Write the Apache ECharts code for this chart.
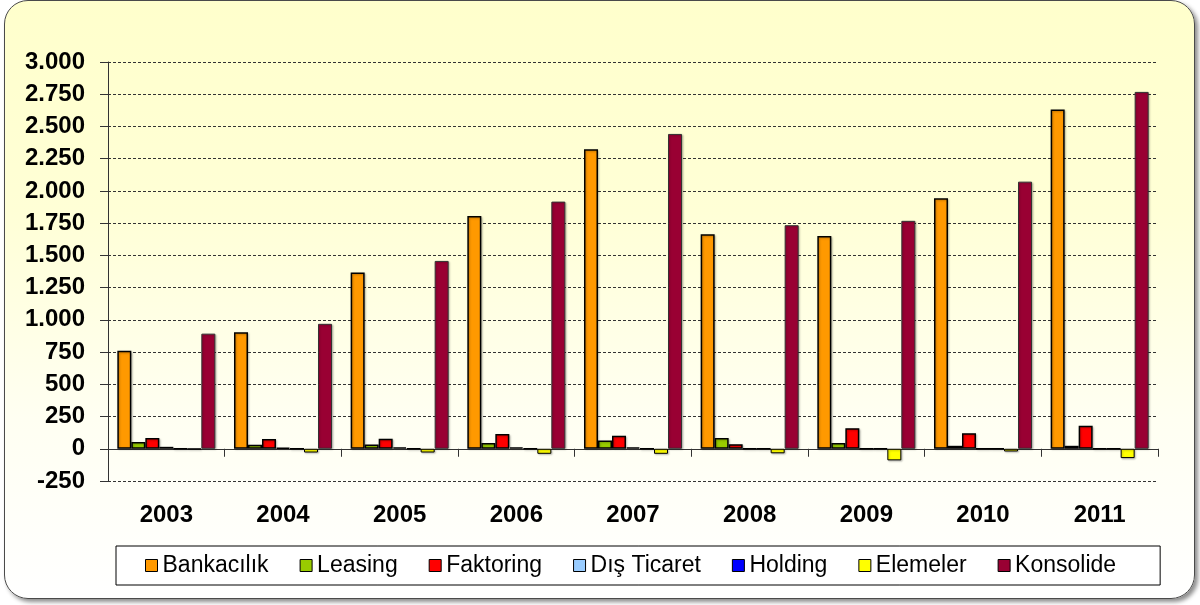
<!DOCTYPE html>
<html>
<head>
<meta charset="utf-8">
<script src="https://cdn.jsdelivr.net/npm/echarts@6/dist/echarts.min.js"></script>
<style>
  html, body { margin: 0; padding: 0; width: 1200px; height: 605px; overflow: hidden; background: #ffffff; }
  #frame { position: absolute; left: 4px; top: 0px; width: 1189px; height: 597px; border: 1.5px solid #4a4a4a; border-radius: 24px;
           background: linear-gradient(to bottom, #FFFFCC 0%, #FFFFD6 35%, #FFFFF2 70%, #FFFFFF 100%);
           box-shadow: 3px 3px 4px rgba(0,0,0,0.45); }
  #chart { position: absolute; left: 0; top: 0; width: 1200px; height: 605px; }
</style>
</head>
<body>
<div id="frame"></div>
<div id="chart"></div>
<script>
const categories = ['2003', '2004', '2005', '2006', '2007', '2008', '2009', '2010', '2011'];
const bankacilik = [760, 903, 1368, 1805, 2323, 1663, 1650, 1943, 2632];
const leasing    = [52, 31, 33, 44, 64, 83, 44, 23, 23];
const faktoring  = [83, 75, 78, 114, 101, 36, 160, 121, 178];
const disTicaret = [15, 8, 10, 10, 10, 0, 0, 0, 0];
const holding    = [0, 0, 0, 0, 0, 0, 0, 0, 0];
const elemeler   = [-3, -29, -29, -39, -39, -35, -90, -21, -72];
const konsolide  = [893, 969, 1457, 1917, 2442, 1734, 1768, 2072, 2768];
const yTicks = { min: -250, max: 3000, interval: 250 };

const FONT = '"Liberation Sans", Arial, sans-serif';
const chart = echarts.init(document.getElementById('chart'), null, { renderer: 'canvas' });

function mk(name, data, color, border, bw) {
  return {
    name: name, type: 'bar', data: data, xAxisIndex: 0,
    barGap: '0%', barCategoryGap: '16%',
    itemStyle: { color: color, borderColor: border, borderWidth: bw,
                 shadowColor: 'rgba(0,0,0,0.25)', shadowBlur: 2, shadowOffsetX: 1, shadowOffsetY: 1 },
    emphasis: { disabled: true }
  };
}

const fmt = v => {
  const s = Math.abs(v).toString().replace(/\B(?=(\d{3})+(?!\d))/g, '.');
  return (v < 0 ? '-' : '') + s;
};

chart.setOption({
  animation: false,
  backgroundColor: 'transparent',
  textStyle: { fontFamily: FONT },
  grid: { left: 108, right: 42, top: 62, bottom: 124, containLabel: false },
  legend: {
    left: 116, top: 546,
    padding: [8, 44, 8, 29],
    itemGap: 31, itemWidth: 12, itemHeight: 12,
    icon: 'rect',
    backgroundColor: '#ffffff', borderColor: '#000000', borderWidth: 1,
    textStyle: { fontFamily: FONT, fontSize: 23, color: '#000' },
    itemStyle: { borderColor: '#000', borderWidth: 1 },
    data: ['Bankacılık', 'Leasing', 'Faktoring', 'Dış Ticaret', 'Holding', 'Elemeler', 'Konsolide']
  },
  xAxis: [
    {
      type: 'category', data: categories, position: 'bottom',
      axisLine: { show: true, onZero: true, lineStyle: { color: '#333', width: 1 } },
      axisTick: { show: true, interval: 0, length: 8, lineStyle: { color: '#333' } },
      axisLabel: { show: false },
      splitLine: { show: false }
    },
    {
      type: 'category', data: categories, position: 'bottom',
      axisLine: { show: false, onZero: false },
      axisTick: { show: false },
      axisLabel: { show: true, margin: 22, fontFamily: FONT, fontSize: 24, fontWeight: 'bold', color: '#000' },
      splitLine: { show: false }
    }
  ],
  yAxis: {
    type: 'value', min: yTicks.min, max: yTicks.max, interval: yTicks.interval,
    axisLine: { show: true, lineStyle: { color: '#333', width: 1 } },
    axisTick: { show: true, length: 8, lineStyle: { color: '#333' } },
    axisLabel: { margin: 23, fontFamily: FONT, fontSize: 24, fontWeight: 'bold', color: '#000', formatter: fmt },
    splitLine: { show: true, lineStyle: { color: '#333', width: 1, type: [3, 2] } }
  },
  series: [
    mk('Bankacılık', bankacilik, '#FF9900', '#000', 1.5),
    mk('Leasing', leasing, '#99CC00', '#000', 1.5),
    mk('Faktoring', faktoring, '#FF0000', '#000', 1.5),
    mk('Dış Ticaret', disTicaret, '#99CCFF', '#000', 1.5),
    mk('Holding', holding, '#0000FF', '#000', 1.5),
    mk('Elemeler', elemeler, '#FFFF00', '#000', 1),
    mk('Konsolide', konsolide, '#990033', '#333', 1)
  ]
});
</script>
</body>
</html>
